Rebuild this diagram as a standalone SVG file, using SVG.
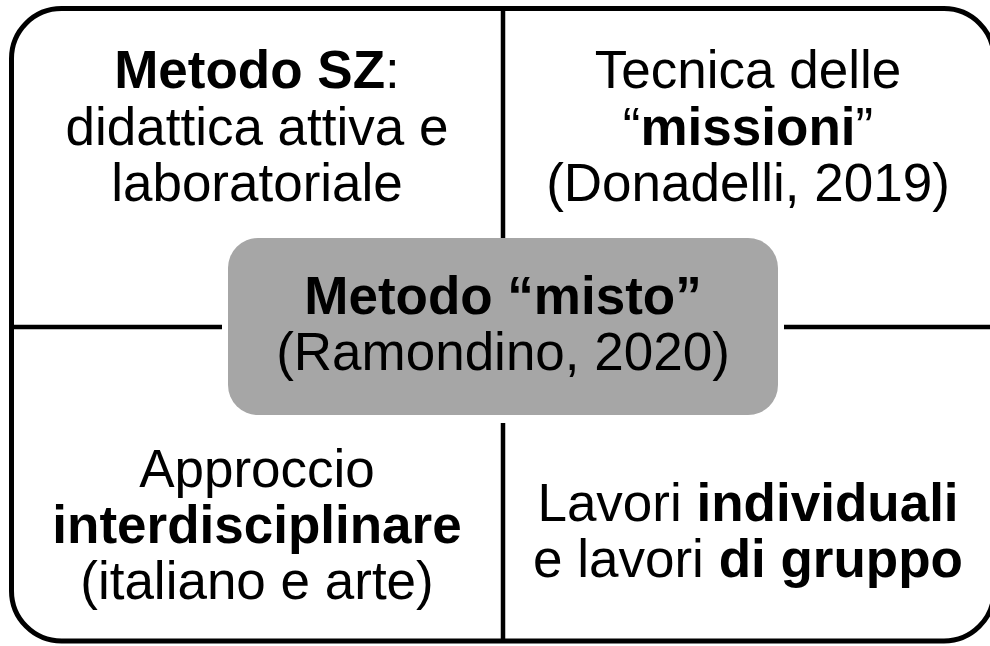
<svg xmlns="http://www.w3.org/2000/svg" width="990" height="646" viewBox="0 0 990 646">
<style>
text{font-family:"Liberation Sans",Arial,sans-serif;font-size:53px;fill:#000;text-anchor:middle}
.b{font-weight:bold}
.ln{stroke:#000;stroke-width:4.5;fill:none}
</style>
<rect width="990" height="646" fill="#fff"/>
<g id="frame">
<rect x="11.5" y="8.5" width="982.5" height="632.5" rx="50" ry="50" fill="none" stroke="#000" stroke-width="5"/>
</g>
<g id="connectors">
<line class="ln" x1="503" y1="8.5" x2="503" y2="238"/>
<line class="ln" x1="503" y1="423" x2="503" y2="641"/>
<line class="ln" x1="11.5" y1="327" x2="222" y2="327"/>
<line class="ln" x1="784" y1="327" x2="994" y2="327"/>
</g>
<g id="top-left">
<text x="257" y="88"><tspan class="b">Metodo SZ</tspan>:</text>
<text x="257" y="145">didattica attiva e</text>
<text x="257" y="201">laboratoriale</text>
</g>
<g id="top-right">
<text x="748" y="88">Tecnica delle</text>
<text x="748" y="145">“<tspan class="b">missioni</tspan>”</text>
<text x="748" y="201">(Donadelli, 2019)</text>
</g>
<g id="center">
<rect x="228" y="238" width="550" height="177" rx="30" ry="30" fill="#a6a6a6"/>
<text x="503" y="314" class="b">Metodo “misto”</text>
<text x="503" y="370">(Ramondino, 2020)</text>
</g>
<g id="bottom-left">
<text x="257" y="487">Approccio</text>
<text x="257" y="543" class="b">interdisciplinare</text>
<text x="257" y="599">(italiano e arte)</text>
</g>
<g id="bottom-right">
<text x="748" y="521">Lavori <tspan class="b">individuali</tspan></text>
<text x="748" y="577">e lavori <tspan class="b">di gruppo</tspan></text>
</g>
</svg>
